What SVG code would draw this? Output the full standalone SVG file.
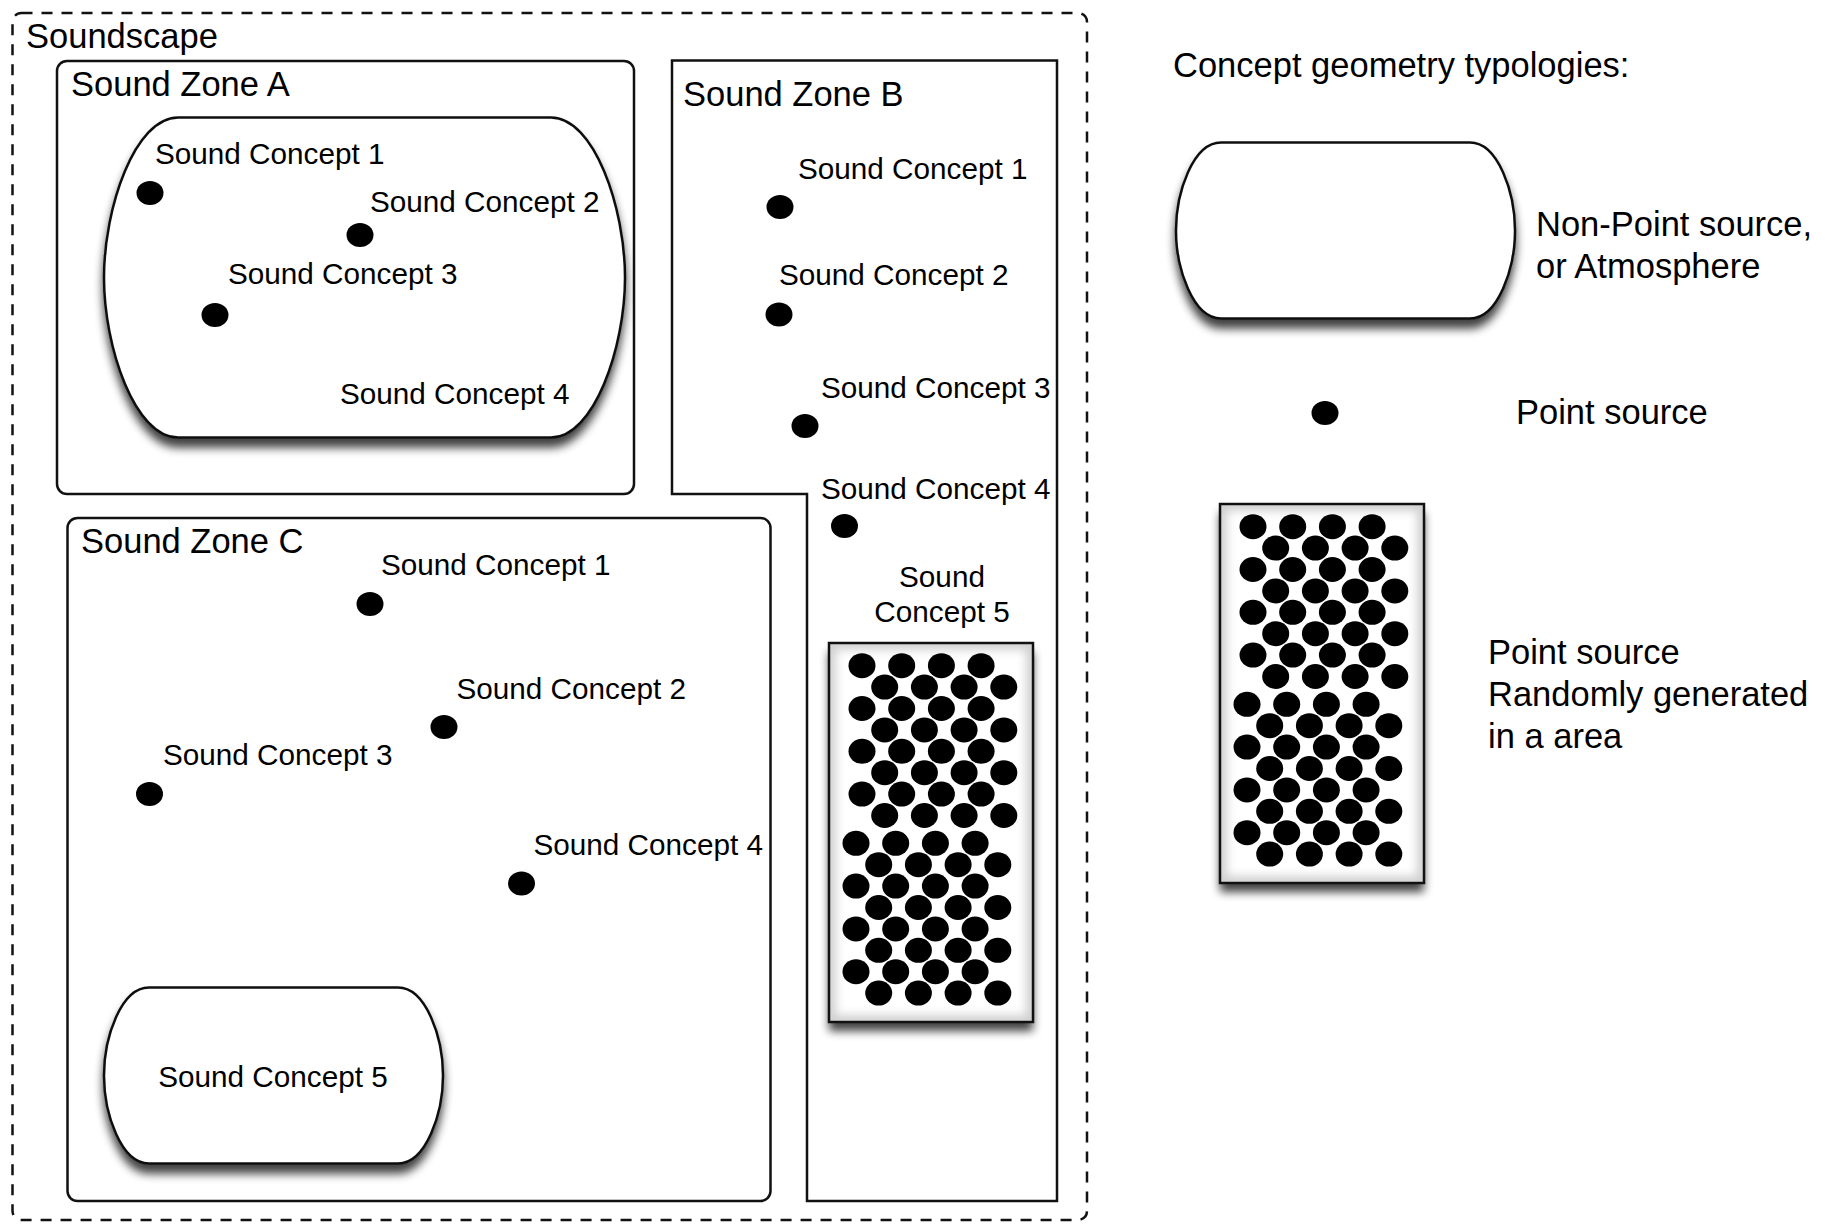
<svg xmlns="http://www.w3.org/2000/svg" xmlns:xlink="http://www.w3.org/1999/xlink" width="1825" height="1232" viewBox="0 0 1825 1232">
<style>
  .big { font-family: "Liberation Sans", Arial, Helvetica, sans-serif; font-size: 34.5px; fill: #000; }
  .lbl { font-family: "Liberation Sans", Arial, Helvetica, sans-serif; font-size: 29.7px; fill: #000; }
  .zone { fill: none; stroke: #111; stroke-width: 2.5; }
  .scape { fill: none; stroke: #111; stroke-width: 2.5; stroke-dasharray: 11 9; }
  .blob { fill: #fff; stroke: #111; stroke-width: 2.5; }
  .dot { fill: #000; }
</style>
<defs>
  <filter id="shadow" x="-20%" y="-20%" width="140%" height="150%">
    <feGaussianBlur in="SourceAlpha" stdDeviation="5"/>
    <feOffset dx="0" dy="9" result="b"/>
    <feComponentTransfer><feFuncA type="linear" slope="0.75"/></feComponentTransfer>
    <feMerge><feMergeNode/><feMergeNode in="SourceGraphic"/></feMerge>
  </filter>
  <filter id="soft" x="-20%" y="-20%" width="140%" height="140%">
    <feGaussianBlur stdDeviation="5"/>
  </filter>
  <path id="blobS" d="M45,0 H294 C322,0 339,50 339,88 C339,126 322,176 294,176 H45 C17,176 0,126 0,88 C0,50 17,0 45,0 Z"/>
  <g id="row">
    <ellipse cx="0" cy="0" rx="13.5" ry="12.5"/>
    <ellipse cx="39.7" cy="0" rx="13.5" ry="12.5"/>
    <ellipse cx="79.4" cy="0" rx="13.5" ry="12.5"/>
    <ellipse cx="119.1" cy="0" rx="13.5" ry="12.5"/>
  </g>
  <clipPath id="areaClip"><rect x="0" y="0" width="204" height="379"/></clipPath>
  <g id="area">
    <rect x="0" y="0" width="204" height="379" fill="#fff" filter="url(#shadow)"/>
    <g clip-path="url(#areaClip)">
      <rect x="0" y="0" width="204" height="379" fill="none" stroke="#d0d0d0" stroke-width="14" filter="url(#soft)"/>
    </g>
    <rect x="0" y="0" width="204" height="379" fill="none" stroke="#111" stroke-width="2.5"/>
    <g class="dot">
      <use xlink:href="#row" x="33" y="22.7"/>
      <use xlink:href="#row" x="55.7" y="44.1"/>
      <use xlink:href="#row" x="33" y="65.5"/>
      <use xlink:href="#row" x="55.7" y="86.9"/>
      <use xlink:href="#row" x="33" y="108.3"/>
      <use xlink:href="#row" x="55.7" y="129.7"/>
      <use xlink:href="#row" x="33" y="151.1"/>
      <use xlink:href="#row" x="55.7" y="172.5"/>
      <use xlink:href="#row" x="27" y="200.3"/>
      <use xlink:href="#row" x="49.7" y="221.7"/>
      <use xlink:href="#row" x="27" y="243.1"/>
      <use xlink:href="#row" x="49.7" y="264.5"/>
      <use xlink:href="#row" x="27" y="285.9"/>
      <use xlink:href="#row" x="49.7" y="307.3"/>
      <use xlink:href="#row" x="27" y="328.7"/>
      <use xlink:href="#row" x="49.7" y="350.1"/>
    </g>
  </g>
</defs>

<rect width="1825" height="1232" fill="#fff"/>

<g id="soundscape">
  <rect class="scape" x="12.5" y="13" width="1074.5" height="1207" rx="9"/>
  <text class="big" x="26" y="47.5">Soundscape</text>
</g>

<g id="zoneA">
  <rect class="zone" x="57" y="61" width="577" height="433" rx="10"/>
  <text class="big" x="71" y="95.5">Sound Zone A</text>
  <g id="zoneA-atmosphere">
    <path class="blob" filter="url(#shadow)" transform="translate(104,117.5)" d="M74,0 H447 C490,0 521,90 521,160 C521,230 490,320 447,320 H74 C31,320 0,230 0,160 C0,90 31,0 74,0 Z"/>
  </g>
  <g id="zoneA-c1"><ellipse class="dot" cx="150" cy="193" rx="13.5" ry="12"/><text class="lbl" x="155" y="164">Sound Concept 1</text></g>
  <g id="zoneA-c2"><ellipse class="dot" cx="360" cy="235" rx="13.5" ry="12"/><text class="lbl" x="370" y="212">Sound Concept 2</text></g>
  <g id="zoneA-c3"><ellipse class="dot" cx="215" cy="315" rx="13.5" ry="12"/><text class="lbl" x="228" y="284">Sound Concept 3</text></g>
  <g id="zoneA-c4"><text class="lbl" x="340" y="404">Sound Concept 4</text></g>
</g>

<g id="zoneB">
  <path class="zone" d="M672,60.5 H1057 V1201 H807 V494 H672 Z"/>
  <text class="big" x="683" y="106">Sound Zone B</text>
  <g id="zoneB-c1"><ellipse class="dot" cx="780" cy="207" rx="13.5" ry="12"/><text class="lbl" x="798" y="179">Sound Concept 1</text></g>
  <g id="zoneB-c2"><ellipse class="dot" cx="779" cy="314.5" rx="13.5" ry="12"/><text class="lbl" x="779" y="285">Sound Concept 2</text></g>
  <g id="zoneB-c3"><ellipse class="dot" cx="805" cy="426" rx="13.5" ry="12"/><text class="lbl" x="821" y="397.5">Sound Concept 3</text></g>
  <g id="zoneB-c4"><ellipse class="dot" cx="844.5" cy="526" rx="13.5" ry="12"/><text class="lbl" x="821" y="499">Sound Concept 4</text></g>
  <g id="zoneB-c5">
    <text class="lbl" x="942" y="587" text-anchor="middle">Sound</text>
    <text class="lbl" x="942" y="622" text-anchor="middle">Concept 5</text>
    <use xlink:href="#area" x="829" y="643"/>
  </g>
</g>

<g id="zoneC">
  <rect class="zone" x="67.5" y="518" width="703" height="683" rx="10"/>
  <text class="big" x="81" y="553">Sound Zone C</text>
  <g id="zoneC-c1"><ellipse class="dot" cx="370" cy="604" rx="13.5" ry="12"/><text class="lbl" x="381" y="575">Sound Concept 1</text></g>
  <g id="zoneC-c2"><ellipse class="dot" cx="444" cy="727" rx="13.5" ry="12"/><text class="lbl" x="456.5" y="699">Sound Concept 2</text></g>
  <g id="zoneC-c3"><ellipse class="dot" cx="149.5" cy="794" rx="13.5" ry="12"/><text class="lbl" x="163" y="765">Sound Concept 3</text></g>
  <g id="zoneC-c4"><ellipse class="dot" cx="521.5" cy="883.5" rx="13.5" ry="12"/><text class="lbl" x="533.5" y="855">Sound Concept 4</text></g>
  <g id="zoneC-c5">
    <use xlink:href="#blobS" class="blob" filter="url(#shadow)" x="104" y="987.5"/>
    <text class="lbl" x="273" y="1087" text-anchor="middle">Sound Concept 5</text>
  </g>
</g>

<g id="legend">
  <text class="big" x="1173" y="77">Concept geometry typologies:</text>
  <g id="legend-nonpoint">
    <use xlink:href="#blobS" class="blob" filter="url(#shadow)" x="1176" y="142.5"/>
    <text class="big" x="1536" y="236">Non-Point source,</text>
    <text class="big" x="1536" y="278">or Atmosphere</text>
  </g>
  <g id="legend-point">
    <ellipse class="dot" cx="1325" cy="413" rx="13.5" ry="12"/>
    <text class="big" x="1516" y="424">Point source</text>
  </g>
  <g id="legend-area">
    <use xlink:href="#area" x="1220" y="504"/>
    <text class="big" x="1488" y="663.5">Point source</text>
    <text class="big" x="1488" y="705.5">Randomly generated</text>
    <text class="big" x="1488" y="748">in a area</text>
  </g>
</g>

<g id="connectors"></g>
</svg>
